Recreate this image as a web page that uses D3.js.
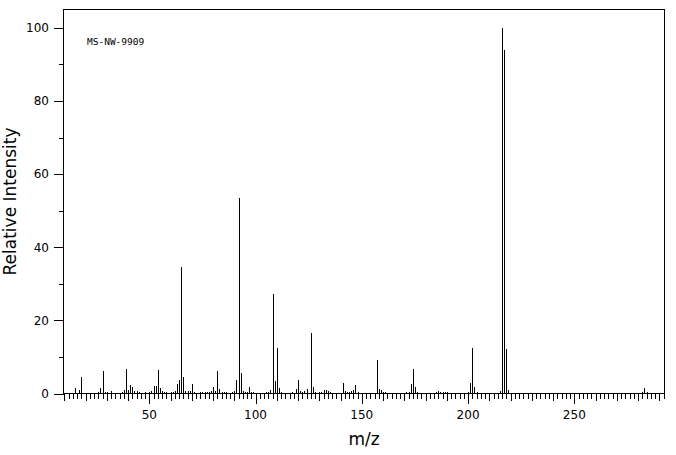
<!DOCTYPE html>
<html>
<head>
<meta charset="utf-8">
<script src="https://cdn.jsdelivr.net/npm/d3@7/dist/d3.min.js"></script>
<style>
  html, body { margin: 0; padding: 0; background: #fff; }
  svg { display: block; }
</style>
</head>
<body>
<svg id="chart" width="676" height="455"></svg>
<script>
// ---- Data ----
const mzValues = [15,17,18,26,27,28,29,30,32,37,38,39,40,41,42,43,44,45,48,50,51,52,53,54,55,56,57,58,60,61,62,63,64,65,66,67,68,69,70,71,74,75,76,77,78,79,80,81,82,83,84,85,86,89,90,91,92,93,94,95,96,97,98,99,105,106,107,108,109,110,111,112,117,119,120,121,122,123,124,126,127,128,130,131,132,133,134,135,141,142,143,144,145,146,147,148,157,158,159,160,161,171,172,173,174,175,176,185,186,187,188,189,190,200,201,202,203,204,215,216,217,218,219,282,283,284];
const intensities = [1.5,0.9,4.5,0.4,1.5,6.1,0.4,0.4,0.6,0.4,0.9,6.7,0.9,2.3,1.7,0.6,0.6,0.4,0.4,0.4,0.6,2.0,2.0,6.4,1.5,0.6,0.4,0.4,0.4,0.4,0.6,2.6,3.6,34.7,4.5,0.6,0.6,0.6,2.6,0.4,0.4,0.4,0.4,0.4,0.4,0.6,1.7,0.6,6.1,1.2,0.4,0.4,0.4,0.4,0.6,3.6,53.5,5.6,0.6,0.4,0.4,1.7,0.4,0.4,0.4,0.4,0.9,27.1,3.4,12.4,1.5,0.4,0.4,1.2,3.6,0.6,0.4,0.6,1.2,16.5,1.7,0.4,0.4,0.4,0.9,0.9,0.6,0.4,2.8,0.6,0.4,0.4,0.6,0.9,2.3,0.4,9.1,1.2,0.9,0.4,0.4,0.4,0.4,2.6,6.7,1.7,0.4,0.4,0.6,0.4,0.4,0.4,0.4,0.4,2.8,12.4,1.7,0.4,0.6,100,93.8,12.1,0.9,0.4,1.5,0.4];
const xTickLabels = [50, 100, 150, 200, 250];
const yTickLabels = [0, 20, 40, 60, 80, 100];
const xAxisTitle = "m/z";
const yAxisTitle = "Relative Intensity";
const sampleId = "MS-NW-9909";

// ---- Layout ----
const svg = d3.select("#chart");
const pL = 64, pR = 664, pT = 9.5, pB = 393.5;

const x = d3.scaleLinear().domain([9.86, 292.2]).range([pL, pR]);
const y = d3.scaleLinear().domain([0, 105]).range([pB, pT]);

const peaks = mzValues.map((m, i) => ({ mz: m, v: intensities[i] }));

// peaks
svg.append("g")
  .attr("shape-rendering", "crispEdges")
  .selectAll("line")
  .data(peaks)
  .join("line")
  .attr("x1", d => Math.round(x(d.mz)) + 0.5)
  .attr("x2", d => Math.round(x(d.mz)) + 0.5)
  .attr("y1", y(0))
  .attr("y2", d => y(d.v))
  .attr("stroke", "#000")
  .attr("stroke-width", 1);

// frame
svg.append("rect")
  .attr("x", pL - 0.5).attr("y", pT)
  .attr("width", pR - pL + 0.5).attr("height", pB - pT)
  .attr("fill", "none").attr("stroke", "#000").attr("stroke-width", 1)
  .attr("shape-rendering", "crispEdges");

const fontTicks = "'DejaVu Sans', sans-serif";

// x axis: minor ticks every 2, mid every 10, labels every 50
const xMinor = d3.range(10, 293, 2);
const gx = svg.append("g").attr("transform", `translate(0,${pB})`);
gx.selectAll("line")
  .data(xMinor)
  .join("line")
  .attr("shape-rendering", "crispEdges")
  .attr("x1", d => Math.round(x(d)) + 0.5)
  .attr("x2", d => Math.round(x(d)) + 0.5)
  .attr("y1", 0)
  .attr("y2", d => d % 50 === 0 ? 10 : (d % 10 === 0 ? 7 : 5))
  .attr("stroke", "#000");
gx.selectAll("text")
  .data(xTickLabels)
  .join("text")
  .attr("x", d => x(d))
  .attr("y", 25)
  .attr("text-anchor", "middle")
  .attr("font-family", fontTicks)
  .attr("font-size", 12)
  .attr("fill", "#000")
  .text(d => d);

// y axis: ticks every 10, labels every 20
const yMinor = d3.range(0, 101, 10);
const gy = svg.append("g").attr("transform", `translate(${pL},0)`);
gy.selectAll("line")
  .data(yMinor)
  .join("line")
  .attr("shape-rendering", "crispEdges")
  .attr("x1", d => d % 20 === 0 ? -10 : -5)
  .attr("x2", 0)
  .attr("y1", d => Math.round(y(d)) + 0.5)
  .attr("y2", d => Math.round(y(d)) + 0.5)
  .attr("stroke", "#000");
gy.selectAll("text")
  .data(yTickLabels)
  .join("text")
  .attr("x", -15)
  .attr("y", d => y(d))
  .attr("dy", "0.36em")
  .attr("text-anchor", "end")
  .attr("font-family", fontTicks)
  .attr("font-size", 12)
  .attr("fill", "#000")
  .text(d => d);

// axis titles
svg.append("text")
  .attr("x", (pL + pR) / 2)
  .attr("y", 445)
  .attr("text-anchor", "middle")
  .attr("font-family", fontTicks)
  .attr("font-size", 17)
  .attr("fill", "#000")
  .text(xAxisTitle);

svg.append("text")
  .attr("transform", `translate(16,${(pT + pB) / 2}) rotate(-90)`)
  .attr("text-anchor", "middle")
  .attr("font-family", fontTicks)
  .attr("font-size", 17)
  .attr("fill", "#000")
  .text(yAxisTitle);

// sample id
svg.append("text")
  .attr("x", 87)
  .attr("y", 44.5)
  .attr("font-family", "'DejaVu Sans Mono', monospace")
  .attr("font-size", 9.5)
  .attr("fill", "#000")
  .text(sampleId);
</script>
</body>
</html>
